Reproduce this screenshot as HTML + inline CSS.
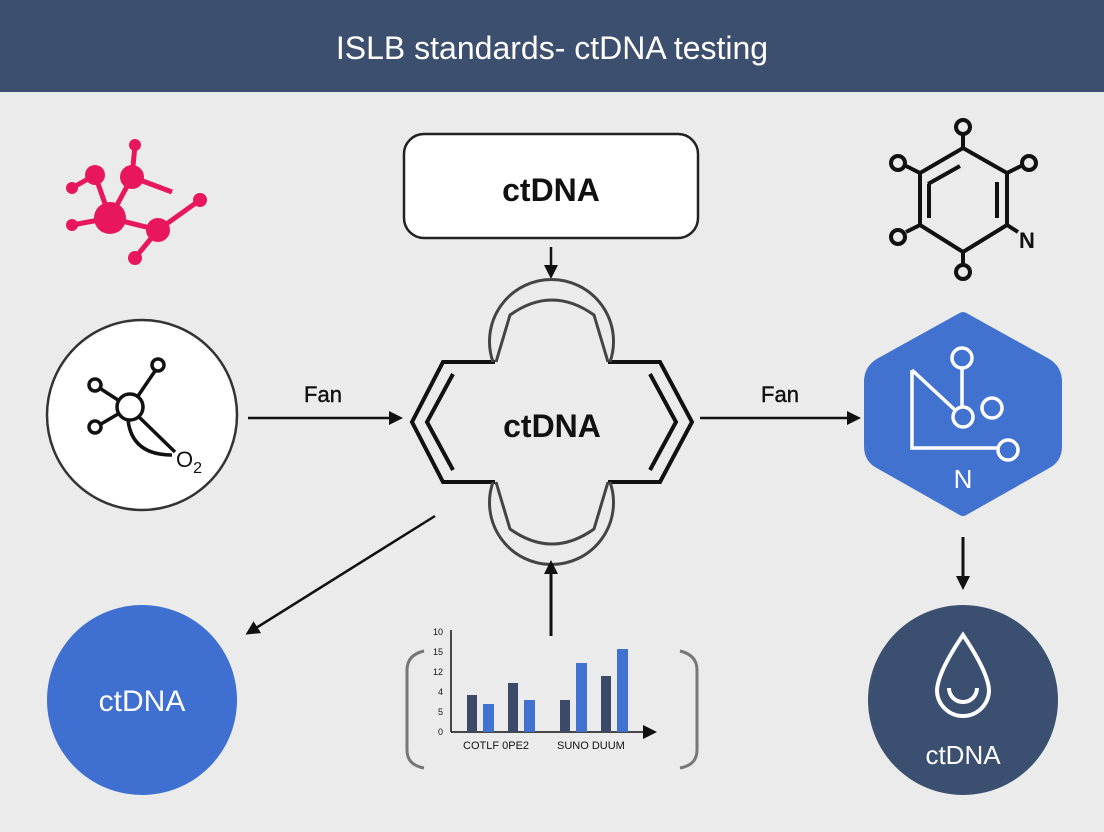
<!DOCTYPE html>
<html><head><meta charset="utf-8"><style>
html,body{margin:0;padding:0;background:#ebebeb;}
svg{display:block;font-family:"Liberation Sans",sans-serif;}
</style></head><body>
<svg width="1104" height="832" viewBox="0 0 1104 832" xmlns="http://www.w3.org/2000/svg">
<defs>
<marker id="ah" markerWidth="14" markerHeight="14" refX="11" refY="7" orient="auto" markerUnits="userSpaceOnUse"><path d="M0,0 L14,7 L0,14 Z" fill="#111"/></marker>
</defs>
<rect width="1104" height="832" fill="#ebebeb"/>
<rect width="1104" height="92" fill="#3d4f6e"/>
<text x="552" y="59" text-anchor="middle" font-size="32" fill="#fff">ISLB standards- ctDNA testing</text>

<rect x="404" y="134" width="294" height="104" rx="20" fill="#fff" stroke="#222" stroke-width="2.5"/>
<text x="551" y="201" text-anchor="middle" font-size="32" font-weight="bold" fill="#111">ctDNA</text>
<line x1="551" y1="247" x2="551" y2="276" stroke="#111" stroke-width="2.5" marker-end="url(#ah)"/>

<g fill="none" stroke="#111" stroke-width="4" stroke-linejoin="miter">
<path d="M495,362 L443,362 L412,422 L443,482 L495,482"/>
<path d="M608,362 L660,362 L692,422 L660,482 L608,482"/>
<path d="M453,374 L427,422 L453,470"/>
<path d="M650,374 L676,422 L650,470"/>
</g>
<g fill="none" stroke="#444" stroke-width="3">
<path d="M493,362 A62,62 0 1 1 610,362"/>
<path d="M496,362 L510,315 Q552,285 594,315 L608,362"/>
<path d="M493,482 A62,62 0 1 0 610,482"/>
<path d="M496,482 L510,529 Q552,559 594,529 L608,482"/>
</g>
<text x="552" y="437" text-anchor="middle" font-size="32" font-weight="bold" fill="#111">ctDNA</text>

<line x1="248" y1="418" x2="400" y2="418" stroke="#111" stroke-width="2.5" marker-end="url(#ah)"/>
<text x="323" y="402" text-anchor="middle" font-size="22" fill="#111" stroke="#111" stroke-width="0.4">Fan</text>
<line x1="700" y1="418" x2="858" y2="418" stroke="#111" stroke-width="2.5" marker-end="url(#ah)"/>
<text x="780" y="402" text-anchor="middle" font-size="22" fill="#111" stroke="#111" stroke-width="0.4">Fan</text>

<g fill="#e8175d" stroke="#e8175d" stroke-width="5">
<line x1="110" y1="218" x2="132" y2="177"/><line x1="110" y1="218" x2="95" y2="175"/>
<line x1="110" y1="218" x2="158" y2="230"/><line x1="110" y1="218" x2="72" y2="225"/>
<line x1="132" y1="177" x2="135" y2="145"/><line x1="132" y1="177" x2="172" y2="192"/>
<line x1="95" y1="175" x2="72" y2="188"/><line x1="158" y1="230" x2="200" y2="200"/>
<line x1="158" y1="230" x2="135" y2="258"/>
<g stroke="none">
<circle cx="110" cy="218" r="16"/><circle cx="132" cy="177" r="12"/><circle cx="95" cy="175" r="10"/>
<circle cx="158" cy="230" r="12"/><circle cx="135" cy="145" r="6"/><circle cx="72" cy="188" r="6"/>
<circle cx="72" cy="225" r="6"/><circle cx="200" cy="200" r="7"/><circle cx="135" cy="258" r="7"/>
</g></g>

<circle cx="142" cy="415" r="95" fill="#fff" stroke="#333" stroke-width="2.5"/>
<g fill="none" stroke="#111" stroke-width="3.5">
<circle cx="130" cy="407" r="13"/>
<circle cx="95" cy="385" r="6"/><circle cx="158" cy="365" r="6"/><circle cx="95" cy="427" r="6"/>
<line x1="101" y1="389" x2="118" y2="400"/><line x1="155" y1="371" x2="138" y2="396"/>
<line x1="101" y1="424" x2="118" y2="414"/><line x1="139" y1="417" x2="175" y2="452"/>
<path d="M128,420 Q132,455 172,455"/>
</g>
<text x="176" y="467" font-size="22" fill="#111">O<tspan font-size="16" dy="6">2</tspan></text>

<line x1="435" y1="516" x2="248" y2="633" stroke="#111" stroke-width="2.5" marker-end="url(#ah)"/>

<circle cx="142" cy="700" r="95" fill="#3f6fd0"/>
<text x="142" y="711" text-anchor="middle" font-size="30" fill="#fff">ctDNA</text>

<line x1="551" y1="636" x2="551" y2="563" stroke="#111" stroke-width="3" marker-end="url(#ah)"/>

<g fill="none" stroke="#777" stroke-width="3">
<path d="M424,651 Q407,655 407,670 L407,750 Q407,765 424,768"/>
<path d="M680,651 Q697,655 697,670 L697,750 Q697,765 680,768"/>
</g>
<line x1="451" y1="630" x2="451" y2="732" stroke="#111" stroke-width="1.5"/>
<line x1="451" y1="732" x2="654" y2="732" stroke="#111" stroke-width="1.5" marker-end="url(#ah)"/>
<g font-size="9" fill="#111" text-anchor="end">
<text x="443" y="635">10</text><text x="443" y="655">15</text><text x="443" y="675">12</text>
<text x="443" y="695">4</text><text x="443" y="715">5</text><text x="443" y="735">0</text>
</g>
<g fill="#3a4a68">
<rect x="467" y="695" width="10" height="37"/><rect x="508" y="683" width="10" height="49"/>
<rect x="560" y="700" width="10" height="32"/><rect x="601" y="676" width="10" height="56"/>
</g>
<g fill="#4272cf">
<rect x="483" y="704" width="11" height="28"/><rect x="524" y="700" width="11" height="32"/>
<rect x="576" y="663" width="11" height="69"/><rect x="617" y="649" width="11" height="83"/>
</g>
<text x="463" y="749" font-size="11" fill="#111">COTLF 0PE2</text>
<text x="557" y="749" font-size="11" fill="#111">SUNO DUUM</text>

<g fill="none" stroke="#111" stroke-width="4">
<path d="M963,148 L1007,173 L1007,225 L963,252 L920,225 L920,173 Z"/>
<path d="M928,184 L960,166"/><path d="M929,184 L929,218"/><path d="M997,182 L997,218"/>
<line x1="963" y1="148" x2="963" y2="135"/><line x1="1007" y1="173" x2="1021" y2="166"/>
<line x1="920" y1="173" x2="906" y2="166"/><line x1="920" y1="225" x2="906" y2="232"/>
<line x1="963" y1="252" x2="963" y2="264"/><line x1="1007" y1="225" x2="1018" y2="232"/>
<circle cx="963" cy="127" r="7"/><circle cx="1029" cy="163" r="7"/><circle cx="898" cy="163" r="7"/>
<circle cx="898" cy="237" r="7"/><circle cx="963" cy="272" r="7"/>
</g>
<text x="1019" y="248" font-size="22" font-weight="bold" fill="#111">N</text>

<path d="M963,318 L1046,364 Q1056,370 1056,382 L1056,446 Q1056,458 1046,463 L963,510 L880,463 Q870,458 870,446 L870,382 Q870,370 880,364 Z" fill="#4272cf" stroke="#4272cf" stroke-width="12" stroke-linejoin="round"/>
<g fill="none" stroke="#fff" stroke-width="3.5">
<path d="M912,370 L912,448 L998,448"/>
<line x1="912" y1="370" x2="955" y2="410"/>
<line x1="962" y1="368" x2="962" y2="406"/>
<circle cx="963" cy="417" r="10"/><circle cx="962" cy="358" r="10"/>
<circle cx="992" cy="408" r="10"/><circle cx="1008" cy="450" r="10"/>
</g>
<text x="963" y="488" text-anchor="middle" font-size="26" fill="#fff">N</text>

<line x1="963" y1="537" x2="963" y2="587" stroke="#111" stroke-width="3" marker-end="url(#ah)"/>

<circle cx="963" cy="700" r="95" fill="#3b4f70"/>
<path d="M963,635 Q938,672 937,690 A26,26 0 0 0 989,690 Q988,672 963,635 Z" fill="none" stroke="#fff" stroke-width="4"/>
<path d="M949,688 A14,14 0 0 0 977,688" fill="none" stroke="#fff" stroke-width="4"/>
<text x="963" y="764" text-anchor="middle" font-size="26" fill="#fff">ctDNA</text>
</svg>
</body></html>
